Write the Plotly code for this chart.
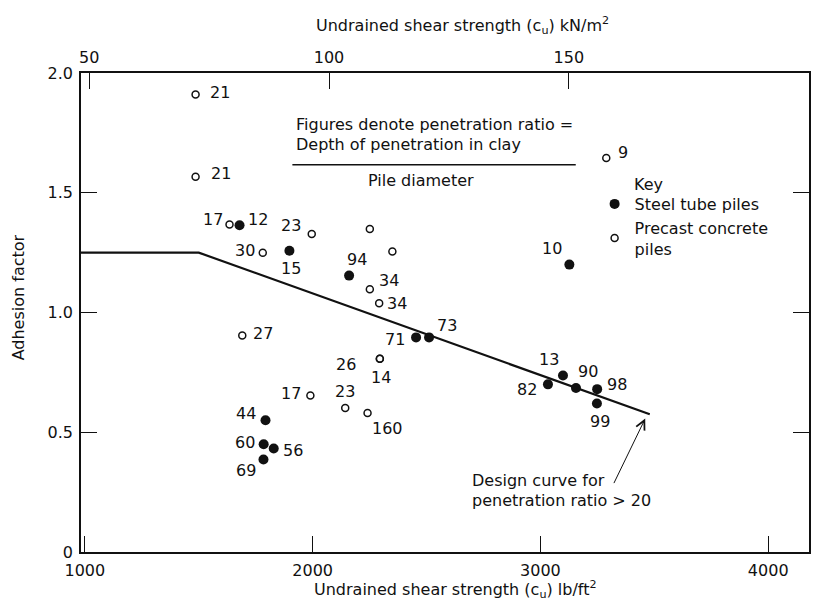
import plotly.graph_objects as go

# Adhesion factor against undrained shear strength for driven piles in clay.
# Labels on the points give the penetration ratio (depth in clay / pile diameter).

# Steel tube piles
steel_cu = [1679, 1898, 2160, 3127, 2454, 2511, 1793, 1785, 1829, 1784, 3033, 3099, 3156, 3249, 3248]
steel_alpha = [1.364, 1.258, 1.154, 1.20, 0.896, 0.896, 0.55, 0.45, 0.432, 0.386, 0.70, 0.737, 0.685, 0.68, 0.62]
steel_ratio = ["12", "15", "94", "10", "71", "73", "44", "60", "56", "69", "82", "13", "90", "98", "99"]

# Precast concrete piles
concrete_cu = [1486, 1486, 1635, 1996, 2251, 2350, 1781, 2251, 2292, 1691, 2295, 2295, 1990, 2143, 2241, 3289]
concrete_alpha = [1.91, 1.567, 1.367, 1.328, 1.349, 1.255, 1.249, 1.097, 1.039, 0.904, 0.807, 0.807, 0.653, 0.601, 0.58, 1.645]
concrete_ratio = ["21", "21", "17", "23", "", "", "30", "34", "34", "27", "26", "14", "17", "23", "160", "9"]

# Design curve for penetration ratio > 20 (starts at the left edge of the axis)
X_MIN, X_MAX = 983, 4179
design_cu = [X_MIN, 1500, 3480]
design_alpha = [1.25, 1.25, 0.575]

# Axis ticks
cu_ticks_lb = [1000, 2000, 3000, 4000]
cu_ticks_kn = [50, 100, 150, 200]
alpha_ticks = [0, 0.5, 1.0, 1.5, 2.0]
alpha_ticktext = ["0", "0.5", "1.0", "1.5", "2.0"]

# Label placement (pixel offsets from each point: right, up)
steel_label_shift = [(18, 6), (2, -18), (8, 16), (-17, 16), (-21, -2), (18, 12), (-20, 7),
                     (-19, 2), (19, -2), (-17, -11), (-21, -5), (-14, 16), (12, 16), (20, 5), (3, -18)]
concrete_label_shift = [(24, 2), (25, 3), (-17, 5), (-21, 8), (0, 0), (0, 0), (-18, 2), (19, 9),
                        (18, 0), (21, 2), (-34, -6), (1, -19), (-19, 2), (0, 17), (20, -15), (17, 6)]

FONT = "DejaVu Sans"
BLACK = "#111111"

fig = go.Figure()

fig.add_trace(go.Scatter(
    x=design_cu, y=design_alpha, mode="lines",
    line=dict(color=BLACK, width=2.2), showlegend=False, hoverinfo="skip"))

fig.add_trace(go.Scatter(
    x=steel_cu, y=steel_alpha, mode="markers", name="Steel tube piles",
    marker=dict(symbol="circle", size=10, color=BLACK, line=dict(width=0))))

fig.add_trace(go.Scatter(
    x=concrete_cu, y=concrete_alpha, mode="markers", name="Precast concrete<br>piles",
    marker=dict(symbol="circle-open", size=7, color=BLACK, line=dict(width=1.5, color=BLACK))))

# Empty trace so the kN/m² axis is drawn along the top
fig.add_trace(go.Scatter(x=[], y=[], xaxis="x2", showlegend=False, hoverinfo="skip"))

annotations = []
for xs, ys, labels, shifts in [(steel_cu, steel_alpha, steel_ratio, steel_label_shift),
                               (concrete_cu, concrete_alpha, concrete_ratio, concrete_label_shift)]:
    for x, y, t, (dx, dy) in zip(xs, ys, labels, shifts):
        if not t:
            continue
        annotations.append(dict(x=x, y=y, text=t, showarrow=False, xshift=dx, yshift=dy,
                                font=dict(family=FONT, size=16, color=BLACK)))

note_font = dict(family=FONT, size=16, color=BLACK)
annotations += [
    dict(x=1920, y=1.786, text="Figures denote penetration ratio =", xanchor="left",
         showarrow=False, font=note_font),
    dict(x=1920, y=1.700, text="Depth of penetration in clay", xanchor="left",
         showarrow=False, font=note_font),
    dict(x=2234, y=1.550, text="Pile diameter", xanchor="left", showarrow=False, font=note_font),
    dict(x=3401, y=1.536, text="Key", xanchor="left", showarrow=False, font=note_font),
    dict(x=2690, y=0.300, text="Design curve for", xanchor="left", showarrow=False, font=note_font),
    dict(x=2690, y=0.217, text="penetration ratio &gt; 20", xanchor="left", showarrow=False,
         font=note_font),
    dict(x=3460, y=0.557, ax=-32, ay=66, text="", showarrow=True, arrowhead=5,
         arrowsize=1.8, arrowwidth=1, arrowcolor=BLACK),
    # axis titles
    dict(x=0.5247, y=1.0988, xref="paper", yref="paper", xanchor="center", yanchor="middle",
         showarrow=False, text="Undrained shear strength (c<sub>u</sub>) kN/m<sup>2</sup>",
         font=note_font),
    dict(x=0.515, y=-0.0793, xref="paper", yref="paper", xanchor="center", yanchor="middle",
         showarrow=False, text="Undrained shear strength (c<sub>u</sub>) lb/ft<sup>2</sup>",
         font=note_font),
    dict(x=-0.0863, y=0.532, xref="paper", yref="paper", xanchor="center", yanchor="middle",
         showarrow=False, textangle=-90, text="Adhesion factor", font=note_font),
]

axis_common = dict(showgrid=False, zeroline=False, showline=True, linecolor=BLACK, linewidth=1.5,
                   ticks="inside", ticklen=16, tickwidth=1.2, tickcolor=BLACK,
                   tickfont=dict(family=FONT, size=16, color=BLACK))

fig.update_layout(
    width=823, height=616,
    margin=dict(l=81, r=12, t=73, b=64),
    paper_bgcolor="white", plot_bgcolor="white",
    font=dict(family=FONT, size=16, color=BLACK),
    xaxis=dict(range=[X_MIN, X_MAX], tickvals=cu_ticks_lb, ticklabelstandoff=3, **axis_common),
    xaxis2=dict(range=[48.3, 200.05], tickvals=cu_ticks_kn, overlaying="x", side="top",
                anchor="y", ticklabelstandoff=2, **axis_common),
    yaxis=dict(range=[0, 2.0], tickvals=alpha_ticks, ticktext=alpha_ticktext, mirror="ticks",
               ticklabelstandoff=3, **axis_common),
    shapes=[dict(type="line", x0=1911, x1=3155, y0=1.617, y1=1.617,
                 line=dict(color=BLACK, width=1.3))],
    annotations=annotations,
    showlegend=True,
    legend=dict(x=0.7055, y=0.762, xanchor="left", yanchor="top", bgcolor="rgba(0,0,0,0)",
                font=dict(family=FONT, size=16, color=BLACK), tracegroupgap=0, itemsizing="trace"),
)

fig.write_html("out.html")
